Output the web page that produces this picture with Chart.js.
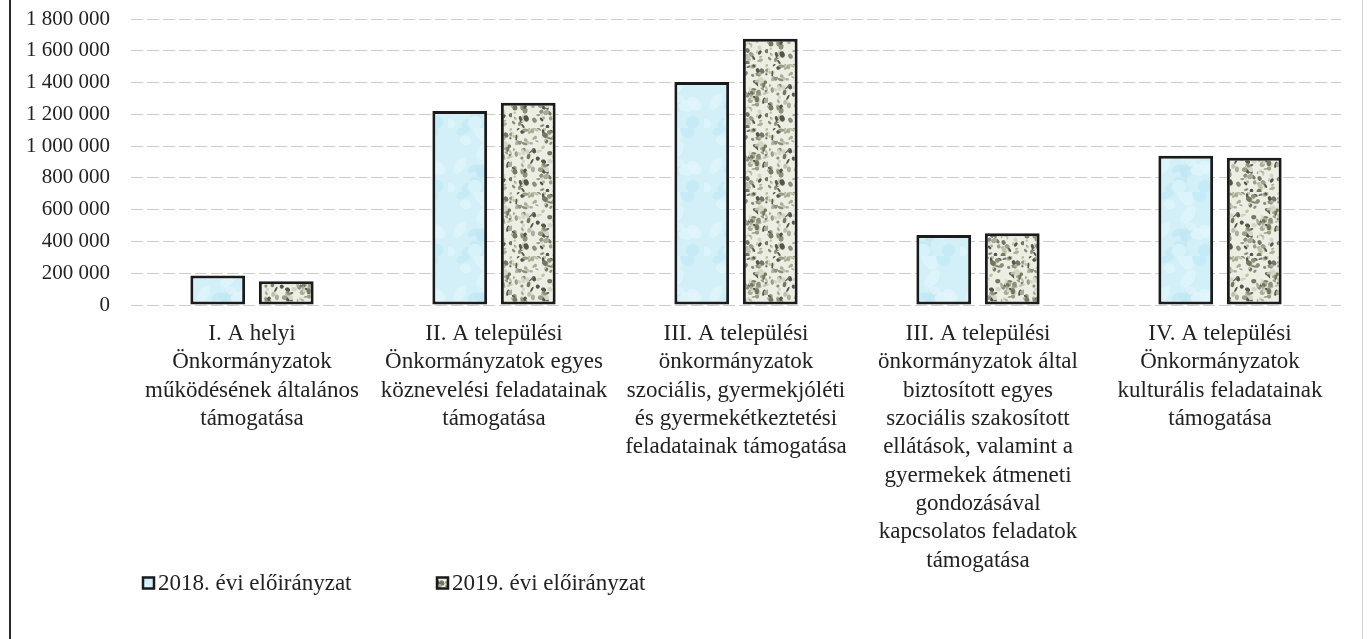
<!DOCTYPE html>
<html lang="hu">
<head>
<meta charset="utf-8">
<title>Előirányzatok 2018-2019</title>
<script src="https://cdn.jsdelivr.net/npm/chart.js@4.4.1/dist/chart.umd.min.js"></script>
<style>
  html, body { margin: 0; padding: 0; background: #fff; }
  #frame {
    position: absolute; left: 9px; top: 0; width: 1354px; height: 639px;
    border-left: 2px solid #2a2a2a; border-right: 1px solid #d2d2d2; box-sizing: border-box;
  }
  #wrap { position: absolute; left: 0; top: 0; width: 1367px; height: 639px; }
</style>
</head>
<body>
<div id="frame"></div>
<div id="wrap"><canvas id="chart"></canvas></div>
<script>
// adatok
const categories = [
  ["I. A helyi", "Önkormányzatok", "működésének általános", "támogatása"],
  ["II. A települési", "Önkormányzatok egyes", "köznevelési feladatainak", "támogatása"],
  ["III. A települési", "önkormányzatok", "szociális, gyermekjóléti", "és gyermekétkeztetési", "feladatainak támogatása"],
  ["III. A települési", "önkormányzatok által", "biztosított egyes", "szociális szakosított", "ellátások, valamint a", "gyermekek átmeneti", "gondozásával", "kapcsolatos feladatok", "támogatása"],
  ["IV. A települési", "Önkormányzatok", "kulturális feladatainak", "támogatása"]
];
const seriesNames = ["2018. évi előirányzat", "2019. évi előirányzat"];
const values2018 = [185000, 1221000, 1403000, 440000, 940000];
const values2019 = [150000, 1273000, 1676000, 451000, 927000];
const yMax = 1800000;
const yStep = 200000;

const FONT = "'Liberation Serif', 'Times New Roman', serif";
const TEXT = "#222";

// determinisztikus "zaj" a mintákhoz
function noise(i) {
  const s = Math.sin(i * 12.9898 + 78.233) * 43758.5453;
  return s - Math.floor(s);
}

// kitöltő minták (világoskék "víz" és szürke "gránit")
function bluePattern() {
  const c = document.createElement("canvas");
  c.width = 64; c.height = 64;
  const g = c.getContext("2d");
  g.fillStyle = "#d3f0f9";
  g.fillRect(0, 0, 64, 64);
  for (let i = 0; i < 18; i++) {
    const x = noise(i) * 64, y = noise(i + 100) * 64;
    g.fillStyle = i % 2 ? "rgba(188,229,243,0.5)" : "rgba(228,247,252,0.6)";
    g.beginPath();
    g.ellipse(x, y, 5 + noise(i + 200) * 6, 3 + noise(i + 300) * 4, noise(i + 400) * 3, 0, Math.PI * 2);
    g.fill();
  }
  return g.createPattern(c, "repeat");
}

function stonePattern() {
  const c = document.createElement("canvas");
  c.width = 64; c.height = 64;
  const g = c.getContext("2d");
  g.fillStyle = "#eceee4";
  g.fillRect(0, 0, 64, 64);
  const cols = ["#bfc2ad", "#9a9e86", "#d3d5c6", "#737862", "#a9ad96", "#52574a", "#8c9078"];
  for (let i = 0; i < 175; i++) {
    const x = noise(i + 500) * 64, y = noise(i + 900) * 64;
    g.fillStyle = cols[Math.floor(noise(i + 1300) * cols.length)];
    g.beginPath();
    g.ellipse(x, y, 0.9 + noise(i + 1700) * 2.4, 0.8 + noise(i + 2100) * 1.8, noise(i + 2500) * 3, 0, Math.PI * 2);
    g.fill();
  }
  return g.createPattern(c, "repeat");
}

function formatNum(v) {
  return String(v).replace(/\B(?=(\d{3})+(?!\d))/g, " ");
}

const PLOT_BOTTOM = 305;
const LEGEND_X = [142, 436];
const LEGEND_Y = 583;

// jelmagyarázat a kép szerinti helyen
const legendDraw = {
  id: "legendDraw",
  afterDraw(chart) {
    const c = chart.ctx;
    c.save();
    c.font = "23px " + FONT;
    c.textBaseline = "middle";
    c.textAlign = "left";
    chart.data.datasets.forEach((ds, i) => {
      const x = LEGEND_X[i];
      const y = LEGEND_Y - 6.5;
      c.fillStyle = ds.backgroundColor;
      c.fillRect(x, y, 13, 13);
      c.lineWidth = 2.5;
      c.strokeStyle = ds.borderColor;
      c.strokeRect(x + 1, y + 1, 11, 11);
      c.fillStyle = TEXT;
      c.fillText(ds.label, x + 16, LEGEND_Y + 1);
    });
    c.restore();
  }
};

const ctx = document.getElementById("chart");
new Chart(ctx, {
  type: "bar",
  data: {
    labels: categories,
    datasets: [
      {
        label: seriesNames[0],
        data: values2018,
        backgroundColor: bluePattern(),
        borderColor: "#1b1b1b",
        borderWidth: 3,
        borderSkipped: false
      },
      {
        label: seriesNames[1],
        data: values2019,
        backgroundColor: stonePattern(),
        borderColor: "#1b1b1b",
        borderWidth: 3,
        borderSkipped: false
      }
    ]
  },
  options: {
    responsive: true,
    maintainAspectRatio: false,
    animation: false,
    categoryPercentage: 0.566,
    barPercentage: 0.8,
    layout: { autoPadding: false, padding: { top: 19, right: 26, left: 0, bottom: 0 } },
    scales: {
      y: {
        min: 0,
        max: yMax,
        afterFit: (s) => { s.width = 131; },
        ticks: {
          stepSize: yStep,
          padding: 3,
          color: TEXT,
          font: { family: FONT, size: 21 },
          callback: (v) => formatNum(v)
        },
        grid: {
          color: "#cdcdcd",
          lineWidth: 1,
          drawTicks: true,
          tickLength: 18,
          tickColor: "rgba(0,0,0,0)"
        },
        border: { display: false, dash: [12, 4] }
      },
      x: {
        afterFit: (s) => { s.height = s.chart.height - PLOT_BOTTOM; },
        ticks: {
          autoSkip: false,
          maxRotation: 0,
          minRotation: 0,
          padding: 7,
          color: TEXT,
          font: { family: FONT, size: 23, lineHeight: 1.23 }
        },
        grid: { display: false },
        border: { display: false }
      }
    },
    plugins: {
      legend: { display: false },
      tooltip: { enabled: false }
    }
  },
  plugins: [legendDraw]
});
</script>
</body>
</html>
